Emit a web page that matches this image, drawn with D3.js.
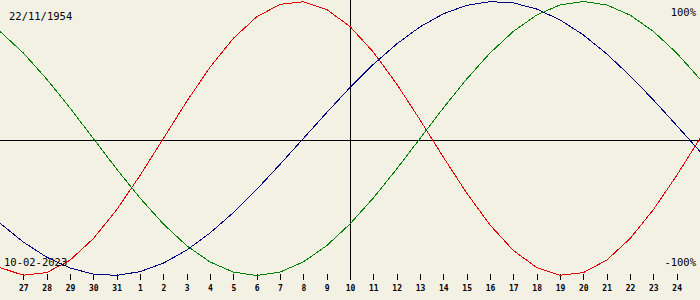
<!DOCTYPE html>
<html>
<head>
<meta charset="utf-8">
<script src="https://cdn.jsdelivr.net/npm/d3@7"></script>
<style>
    html, body { margin: 0; padding: 0; background: #f3f0e4; }
    svg { display: block; }
    .lbl { font-family: "DejaVu Sans Mono", monospace; font-size: 10.5px; fill: #000; }
    .axis text { font-family: "DejaVu Sans Mono", monospace; font-size: 8px; font-weight: bold; fill: #000; }
    .axis line { stroke: #000; }
</style>
</head>
<body>
<div id="chart"></div>
<script>
// days around the target date (0 = 10 Feb 2023)
const dayOffsets = [-15, -14, -13, -12, -11, -10, -9, -8, -7, -6, -5, -4, -3, -2, -1, 0,
    1, 2, 3, 4, 5, 6, 7, 8, 9, 10, 11, 12, 13, 14, 15];

const tickDays = [-14, -13, -12, -11, -10, -9, -8, -7, -6, -5, -4, -3, -2, -1, 0,
    1, 2, 3, 4, 5, 6, 7, 8, 9, 10, 11, 12, 13, 14];
const tickLabels = ["27", "28", "29", "30", "31", "1", "2", "3", "4", "5", "6", "7", "8", "9", "10",
    "11", "12", "13", "14", "15", "16", "17", "18", "19", "20", "21", "22", "23", "24"];

// physical (red)
const physical = [-0.942, -0.998, -0.979, -0.888, -0.731, -0.520, -0.270, 0, 0.270, 0.520, 0.731,
    0.888, 0.979, 0.998, 0.942, 0.817, 0.631, 0.398, 0.136, -0.136, -0.398, -0.631, -0.817,
    -0.942, -0.998, -0.979, -0.888, -0.731, -0.520, -0.270, 0];

// emotional (green)
const emotional = [0.782, 0.624, 0.434, 0.223, 0, -0.223, -0.434, -0.624, -0.782, -0.901, -0.975,
    -1, -0.975, -0.901, -0.782, -0.624, -0.434, -0.223, 0, 0.223, 0.434, 0.624, 0.782, 0.901,
    0.975, 1, 0.975, 0.901, 0.782, 0.624, 0.434];

// intellectual (blue)
const intellectual = [-0.618, -0.756, -0.866, -0.945, -0.990, -0.999, -0.972, -0.910, -0.815,
    -0.690, -0.541, -0.372, -0.189, 0, 0.189, 0.372, 0.541, 0.690, 0.815, 0.910, 0.972, 0.999,
    0.990, 0.945, 0.866, 0.756, 0.618, 0.458, 0.282, 0.095, -0.095];

const birthDate = "22/11/1954";
const targetDate = "10-02-2023";

const width = 700;
const height = 300;

const svg = d3.select("#chart").append("svg")
    .attr("width", width)
    .attr("height", height);

const x = d3.scaleLinear().domain([-15, 15]).range([0, width]);
const y = d3.scaleLinear().domain([-1, 1]).range([275.5, 1.5]);

// axes cross
svg.append("line")
    .attr("x1", 0).attr("x2", width)
    .attr("y1", 140.5).attr("y2", 140.5)
    .attr("stroke", "#000")
    .attr("shape-rendering", "crispEdges");

svg.append("line")
    .attr("x1", Math.round(x(0)) + 0.5).attr("x2", Math.round(x(0)) + 0.5)
    .attr("y1", 0).attr("y2", 280)
    .attr("stroke", "#000")
    .attr("shape-rendering", "crispEdges");

// day ticks along the bottom
const axis = d3.axisBottom(x)
    .tickValues(tickDays)
    .tickFormat((d, i) => tickLabels[i])
    .tickSize(6)
    .tickPadding(5);

svg.append("g")
    .attr("class", "axis")
    .attr("transform", "translate(0,274)")
    .call(axis)
    .call(g => g.select(".domain").remove())
    .call(g => g.selectAll("line").attr("shape-rendering", "crispEdges"));

const series = [
    { name: "physical", values: physical, color: "#e00000" },
    { name: "emotional", values: emotional, color: "#008000" },
    { name: "intellectual", values: intellectual, color: "#000080" }
];

const line = d3.line()
    .x((d, i) => x(dayOffsets[i]))
    .y(d => y(d));

svg.append("g")
    .selectAll("path")
    .data(series)
    .enter().append("path")
    .attr("d", d => line(d.values))
    .attr("fill", "none")
    .attr("stroke", d => d.color)
    .attr("stroke-width", 1)
    .attr("shape-rendering", "crispEdges");

// corner labels
svg.append("text").attr("class", "lbl").attr("x", 9).attr("y", 20).text(birthDate);
svg.append("text").attr("class", "lbl").attr("x", 4).attr("y", 266).text(targetDate);
svg.append("text").attr("class", "lbl").attr("x", 696).attr("y", 16)
    .attr("text-anchor", "end").text("100%");
svg.append("text").attr("class", "lbl").attr("x", 696).attr("y", 266)
    .attr("text-anchor", "end").text("-100%");
</script>
</body>
</html>
